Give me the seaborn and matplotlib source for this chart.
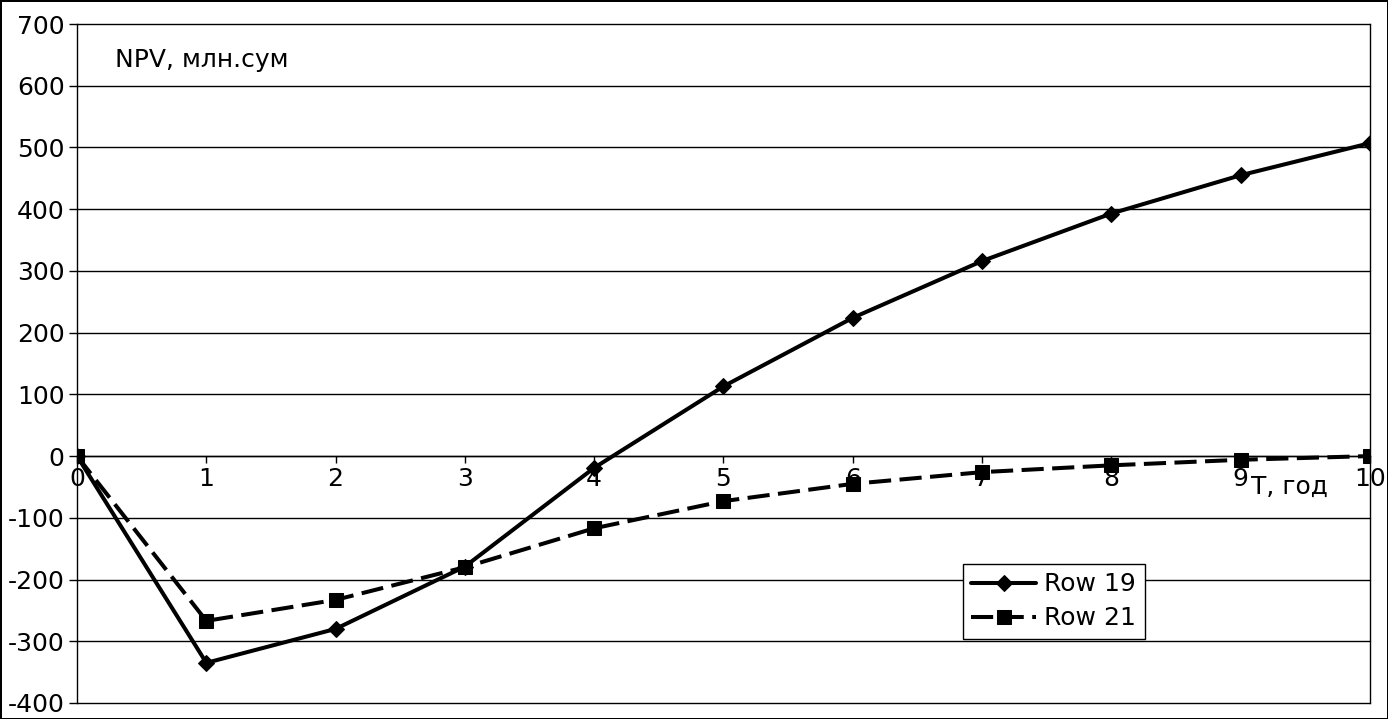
import matplotlib
matplotlib.use("Agg")
import matplotlib.pyplot as plt
import seaborn as sns
import pandas as pd

# values
years = [0, 1, 2, 3, 4, 5, 6, 7, 8, 9, 10]
row19 = [0, -335, -280, -179, -19, 113, 224, 316, 393, 455, 507]
row21 = [0, -267, -233, -180, -117, -73, -45, -26, -15, -6, 0]
y_ticks = [-400, -300, -200, -100, 0, 100, 200, 300, 400, 500, 600, 700]

df = pd.DataFrame({"T": years, "Row 19": row19, "Row 21": row21})

sns.set_style("white")
plt.rcParams['font.family'] = ['DejaVu Sans']
plt.rcParams['axes.unicode_minus'] = False
plt.rcParams['text.color'] = 'black'
plt.rcParams['xtick.color'] = 'black'
plt.rcParams['ytick.color'] = 'black'

fig = plt.figure(figsize=(13.88, 7.19), dpi=100, edgecolor='black', linewidth=2)
ax = fig.add_axes([0.0555, 0.0223, 0.9315, 0.9443])

sns.lineplot(data=df, x="T", y="Row 19", ax=ax, color='black', lw=2.9,
             marker='D', markersize=8.5, markeredgecolor='black', label="Row 19")
sns.lineplot(data=df, x="T", y="Row 21", ax=ax, color='black', lw=2.9,
             linestyle=(0, (5.5, 2.1)), marker='s', markersize=10.5,
             markeredgecolor='black', label="Row 21")

ax.set_xlim(0, 10)
ax.set_ylim(-400, 700)
ax.set_yticks(y_ticks)
ax.set_xticks(years)
ax.set_xlabel("")
ax.set_ylabel("")

ax.yaxis.grid(True, color='black', lw=1)
ax.xaxis.grid(False)
for gl in ax.get_ygridlines():
    gl.set_clip_on(False)

ax.spines['top'].set_visible(False)
ax.spines['bottom'].set_position(('data', 0))
for s in ['left', 'right', 'bottom']:
    ax.spines[s].set_color('black')
    ax.spines[s].set_linewidth(1)

ax.tick_params(axis='y', direction='out', length=6, width=1, color='black',
               labelsize=18, pad=3, left=True, labelcolor='black')
ax.tick_params(axis='x', direction='out', length=5, width=1, color='black',
               labelsize=18, pad=3, bottom=True, labelcolor='black')

ax.text(0.029, 0.947, "NPV, млн.сум", transform=ax.transAxes, fontsize=18,
        ha='left', va='center', color='black')
ax.text(9.08, -50, "T, год", fontsize=18, ha='left', va='center', color='black')

leg = ax.legend(loc='lower left', bbox_to_anchor=(0.685, 0.094), fontsize=18,
                frameon=True, fancybox=False, edgecolor='black', framealpha=1,
                handlelength=2.6, borderpad=0.35, labelspacing=0.4,
                handletextpad=0.3, borderaxespad=0)
leg.get_frame().set_linewidth(1)
for t in leg.get_texts():
    t.set_color('black')

fig.savefig("out.png", dpi=100)
